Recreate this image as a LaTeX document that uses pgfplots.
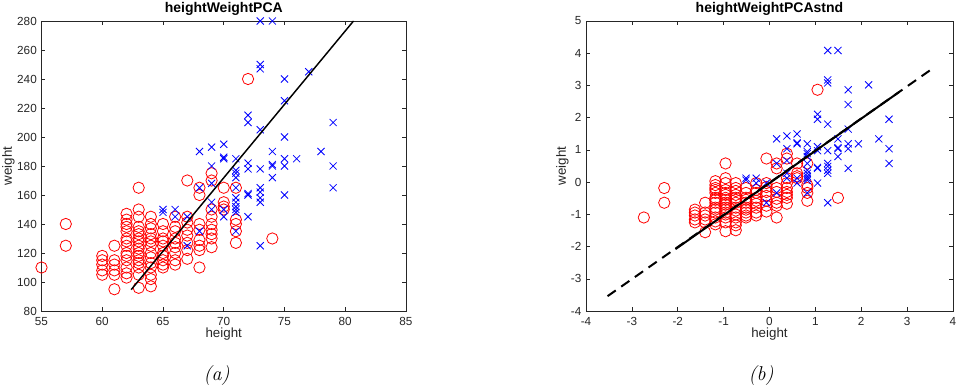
\documentclass[border=0pt]{standalone}
\usepackage{fontspec}
\usepackage{pgfplots}
\pgfplotsset{compat=1.18}
\usepackage{pgfplotstable}
\newfontfamily\arial{Liberation Sans}
\definecolor{axgray}{rgb}{0.15,0.15,0.15}

\pgfplotstableread{
h w zh zw
55 110 -2.739 -1.098
57 125 -2.294 -0.640
57 140 -2.294 -0.183
60 105 -1.626 -1.250
60 108 -1.626 -1.159
60 112 -1.626 -1.037
60 115 -1.626 -0.945
60 118 -1.626 -0.854
61 95 -1.403 -1.555
61 105 -1.403 -1.250
61 108 -1.403 -1.159
61 112 -1.403 -1.037
61 115 -1.403 -0.945
61 125 -1.403 -0.640
62 103 -1.180 -1.311
62 106 -1.180 -1.220
62 110 -1.180 -1.098
62 115 -1.180 -0.945
62 118 -1.180 -0.854
62 120 -1.180 -0.793
62 125 -1.180 -0.640
62 128 -1.180 -0.549
62 130 -1.180 -0.488
62 135 -1.180 -0.335
62 138 -1.180 -0.244
62 140 -1.180 -0.183
62 143 -1.180 -0.091
62 147 -1.180 0.030
63 96 -0.958 -1.524
63 105 -0.958 -1.250
63 110 -0.958 -1.098
63 113 -0.958 -1.006
63 115 -0.958 -0.945
63 118 -0.958 -0.854
63 120 -0.958 -0.793
63 123 -0.958 -0.701
63 125 -0.958 -0.640
63 128 -0.958 -0.549
63 130 -0.958 -0.488
63 133 -0.958 -0.396
63 135 -0.958 -0.335
63 138 -0.958 -0.244
63 145 -0.958 -0.030
63 150 -0.958 0.122
63 165 -0.958 0.579
64 97 -0.735 -1.494
64 102 -0.735 -1.341
64 105 -0.735 -1.250
64 110 -0.735 -1.098
64 113 -0.735 -1.006
64 117 -0.735 -0.884
64 120 -0.735 -0.793
64 125 -0.735 -0.640
64 128 -0.735 -0.549
64 130 -0.735 -0.488
64 133 -0.735 -0.396
64 137 -0.735 -0.274
64 140 -0.735 -0.183
64 145 -0.735 -0.030
65 110 -0.512 -1.098
65 112 -0.512 -1.037
65 115 -0.512 -0.945
65 118 -0.512 -0.854
65 120 -0.512 -0.793
65 125 -0.512 -0.640
65 128 -0.512 -0.549
65 130 -0.512 -0.488
65 135 -0.512 -0.335
65 140 -0.512 -0.183
66 112 -0.290 -1.037
66 115 -0.290 -0.945
66 120 -0.290 -0.793
66 124 -0.290 -0.671
66 127 -0.290 -0.579
66 130 -0.290 -0.488
66 135 -0.290 -0.335
66 138 -0.290 -0.244
66 145 -0.290 -0.030
67 116 -0.067 -0.915
67 122 -0.067 -0.732
67 127 -0.067 -0.579
67 132 -0.067 -0.427
67 136 -0.067 -0.305
67 141 -0.067 -0.152
67 145 -0.067 -0.030
67 170 -0.067 0.732
68 110 0.156 -1.098
68 122 0.156 -0.732
68 125 0.156 -0.640
68 129 0.156 -0.518
68 136 0.156 -0.305
68 140 0.156 -0.183
68 160 0.156 0.427
68 165 0.156 0.579
69 124 0.379 -0.671
69 130 0.379 -0.488
69 133 0.379 -0.396
69 136 0.379 -0.305
69 140 0.379 -0.183
69 145 0.379 -0.030
69 150 0.379 0.122
69 170 0.379 0.732
69 175 0.379 0.884
70 150 0.601 0.122
70 152 0.601 0.183
70 155 0.601 0.274
70 165 0.601 0.579
71 127 0.824 -0.579
71 135 0.824 -0.335
71 140 0.824 -0.183
71 143 0.824 -0.091
71 165 0.824 0.579
72 240 1.047 2.866
74 130 1.492 -0.488
}\female

\pgfplotstableread{
h w zh zw
65 148 -0.512 0.061
65 150 -0.512 0.122
66 145 -0.290 -0.030
66 150 -0.290 0.122
67 125 -0.067 -0.640
67 145 -0.067 -0.030
68 135 0.156 -0.335
68 165 0.156 0.579
68 190 0.156 1.341
69 150 0.379 0.122
69 155 0.379 0.274
69 168 0.379 0.671
69 180 0.379 1.037
69 193 0.379 1.433
70 145 0.601 -0.030
70 150 0.601 0.122
70 185 0.601 1.189
70 186 0.601 1.220
70 195 0.601 1.494
71 135 0.824 -0.335
71 148 0.824 0.061
71 150 0.824 0.122
71 152 0.824 0.183
71 155 0.824 0.274
71 158 0.824 0.366
71 165 0.824 0.579
71 172 0.824 0.793
71 175 0.824 0.884
71 177 0.824 0.945
71 185 0.824 1.189
72 145 1.047 -0.030
72 160 1.047 0.427
72 161 1.047 0.457
72 178 1.047 0.976
72 182 1.047 1.098
72 210 1.047 1.951
72 215 1.047 2.104
73 125 1.269 -0.640
73 155 1.269 0.274
73 158 1.269 0.366
73 162 1.269 0.488
73 165 1.269 0.579
73 178 1.269 0.976
73 205 1.269 1.799
73 247 1.269 3.079
73 250 1.269 3.171
73 280 1.269 4.085
74 172 1.492 0.793
74 180 1.492 1.037
74 181 1.492 1.067
74 190 1.492 1.341
74 280 1.492 4.085
75 160 1.715 0.427
75 180 1.715 1.037
75 185 1.715 1.189
75 200 1.715 1.646
75 225 1.715 2.409
75 240 1.715 2.866
76 185 1.938 1.189
77 245 2.160 3.018
78 190 2.383 1.341
79 165 2.606 0.579
79 180 2.606 1.037
79 210 2.606 1.951
}\male

\pgfplotsset{
  mystyle/.style={
    scale only axis, anchor=south west, height=217.5pt,
    clip=false, clip marker paths=true,
    axis line style={axgray, line width=0.4pt},
    tick style={axgray, line width=0.4pt},
    tick align=inside, major tick length=3pt,
    font=\arial\fontsize{8.8}{10}\selectfont,
    tick label style={axgray, font=\arial\fontsize{8.8}{10}\selectfont},
    xticklabel style={yshift=-1pt},
    /pgf/number format/assume math mode=true,
    label style={axgray, font=\arial\fontsize{10}{12}\selectfont},
    every axis title shift=0pt,
    title style={font=\arial\bfseries\fontsize{10.5}{12}\selectfont, anchor=base, yshift=0pt, at={(axis description cs:0.5,1.028)}},
    xlabel style={anchor=base, at={(axis description cs:0.5,-0.0914)}},
  },
  femstyle/.style={only marks, mark=o, mark size=4.25pt, red, mark options={line width=0.6pt}},
  malstyle/.style={only marks, mark=x, mark size=3.75pt, blue, mark options={line width=0.6pt}},
}

\begin{document}
\begin{tikzpicture}
\useasboundingbox (0,0) rectangle (718.5pt,291pt);

\begin{axis}[mystyle, at={(31.125pt,57.75pt)}, width=273.375pt,
  xmin=55, xmax=85, ymin=80, ymax=280,
  xtick={55,60,...,85}, ytick={80,100,...,280},
  title={heightWeightPCA}, xlabel={height}, ylabel={weight},
  ylabel style={anchor=center, at={(axis description cs:-0.0905,0.5)}}]
\addplot[femstyle] table[x=h, y=w] {\female};
\addplot[malstyle] table[x=h, y=w] {\male};
\addplot[black, line width=1.1pt] coordinates {(62.38,94.7) (80.68,280)};
\end{axis}

\begin{axis}[mystyle, at={(439.5pt,57.75pt)}, width=275.25pt,
  xmin=-4, xmax=4, ymin=-4, ymax=5,
  xtick={-4,-3,...,4}, ytick={-4,-3,...,5},
  title={heightWeightPCAstnd}, xlabel={height}, ylabel={weight},
  ylabel style={anchor=center, at={(axis description cs:-0.064,0.5)}}]
\addplot[femstyle] table[x=zh, y=zw] {\female};
\addplot[malstyle] table[x=zh, y=zw] {\male};
\addplot[black, line width=1.5pt, dash pattern=on 7.5pt off 5pt] coordinates {(-3.53,-3.54) (3.55,3.52)};
\addplot[black, line width=1.5pt] coordinates {(-2.05,-2.08) (2.83,2.80)};
\end{axis}

\node[font=\itshape\fontsize{15}{17}\selectfont] at (162.5pt,9pt) {(a)};
\node[font=\itshape\fontsize{15}{17}\selectfont] at (570.75pt,9pt) {(b)};
\end{tikzpicture}
\end{document}
